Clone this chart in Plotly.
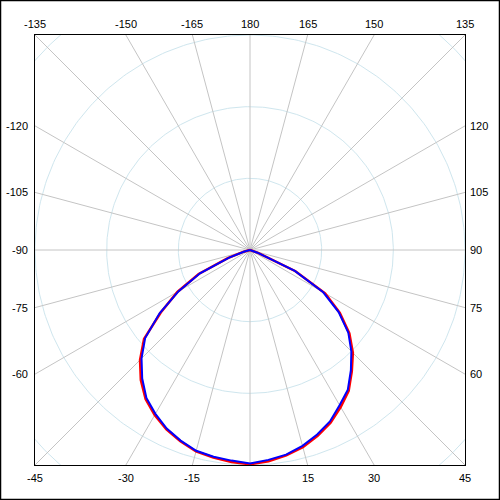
import numpy as np
import plotly.graph_objects as go

# gamma angles (deg), 0 = straight down
angles = [-90, -85, -80, -75, -70, -65, -60, -55, -50, -45, -40, -35, -30, -25, -20, -15, -10, -5,
          0, 5, 10, 15, 20, 25, 30, 35, 40, 45, 50, 55, 60, 65, 70, 75, 80, 85, 90]
# intensity, plane A (blue) and plane B (red)
blue_vals = [0, 0, 3, 8, 31, 77, 115, 154, 191, 214, 234, 252, 264, 275, 283, 290, 293, 295,
             298, 294, 290, 283, 274, 264, 250, 238, 219, 200, 179, 151, 118, 69, 11, 5, 1, 0, 0]
red_vals = [0, 0, 3, 9, 33, 79, 117, 152, 193, 217, 237, 254, 266, 276, 284, 291, 294, 297,
            299, 296, 291, 285, 276, 266, 253, 240, 221, 203, 181, 153, 121, 70, 12, 5, 1, 0, 0]

ring_values = [100, 200, 300, 400]
spoke_angles = list(range(-165, 181, 15))
label_angles = [-165, -150, -135, -120, -105, -90, -75, -60, -45, -30, -15,
                15, 30, 45, 60, 75, 90, 105, 120, 135, 150, 165, 180]
R_MAX = 300


def to_xy(theta_deg, r):
    t = np.radians(np.asarray(theta_deg, dtype=float))
    r = np.asarray(r, dtype=float)
    return r * np.sin(t), -r * np.cos(t)


fig = go.Figure()

# rings
phi = np.linspace(0, 360, 361)
for rv in ring_values:
    x, y = to_xy(phi, np.full(phi.shape, rv))
    fig.add_trace(go.Scatter(x=x, y=y, mode="lines", hoverinfo="skip",
                             line=dict(color="#cfe6ee", width=1), showlegend=False))

# spokes
for a in spoke_angles:
    x, y = to_xy([a, a], [0, 2 * R_MAX])
    fig.add_trace(go.Scatter(x=x, y=y, mode="lines", hoverinfo="skip",
                             line=dict(color="#c4c4c4", width=1), showlegend=False))

# curves
x, y = to_xy(angles, red_vals)
fig.add_trace(go.Scatter(x=x, y=y, mode="lines", line=dict(color="red", width=2.5),
                         showlegend=False))
x, y = to_xy(angles, blue_vals)
fig.add_trace(go.Scatter(x=x, y=y, mode="lines", line=dict(color="blue", width=2),
                         showlegend=False))

# angle labels along the frame
font = dict(family="Liberation Sans, Arial", size=11, color="black")
for a in label_angles:
    s, c = np.sin(np.radians(a)), -np.cos(np.radians(a))
    k = R_MAX / max(abs(s), abs(c))
    ex, ey = s * k, c * k
    text = str(a)
    if abs(a) >= 135:
        fig.add_annotation(x=ex, y=ey, text=text, showarrow=False, font=font,
                           yanchor="bottom", yshift=3)
    elif abs(a) <= 45:
        fig.add_annotation(x=ex, y=ey, text=text, showarrow=False, font=font,
                           yanchor="top", yshift=-5)
    elif a < 0:
        fig.add_annotation(x=ex, y=ey, text=text, showarrow=False, font=font,
                           xanchor="right", xshift=-5)
    else:
        fig.add_annotation(x=ex, y=ey, text=text, showarrow=False, font=font,
                           xanchor="left", xshift=3)

axis = dict(range=[-R_MAX, R_MAX], showgrid=False, zeroline=False, showticklabels=False,
            ticks="", showline=True, linecolor="black", linewidth=1, mirror=True,
            fixedrange=True)
fig.update_xaxes(**axis)
fig.update_yaxes(**axis)

# outer border around the whole picture
fig.add_shape(type="rect", xref="paper", yref="paper",
              x0=-34.5 / 430, x1=1 + 34.5 / 430, y0=-34.5 / 430, y1=1 + 34.5 / 430,
              line=dict(color="black", width=1.5))

fig.update_layout(width=500, height=500, margin=dict(l=35, r=35, t=35, b=35),
                  plot_bgcolor="white", paper_bgcolor="white")

fig.write_html("out.html", config={"displayModeBar": False},
               post_script="document.body.style.margin='0';")
